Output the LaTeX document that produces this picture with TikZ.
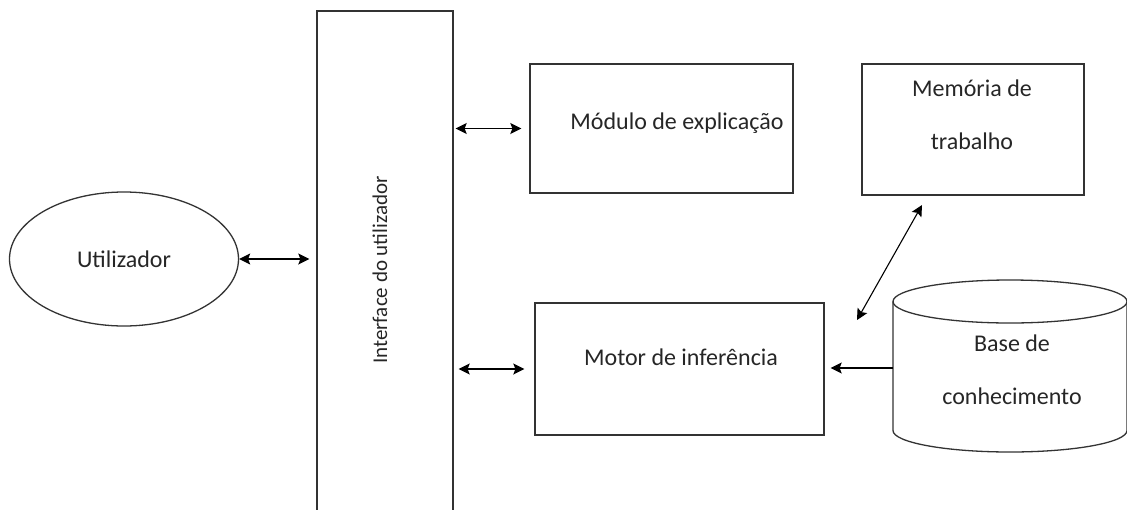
\documentclass[tikz,border=0pt]{standalone}
\usepackage{fontspec}
\setmainfont{Carlito}
\usetikzlibrary{shapes.geometric,arrows.meta}
\tikzset{
  box/.style={draw=black!80, line width=1.3pt, inner sep=0pt},
  txt/.style={text=black!85, font=\fontsize{24}{53}\selectfont, align=center},
  link/.style={<->, line width=1.5pt},
}
\begin{document}
\begin{tikzpicture}[x=1pt, y=-1pt, >={Stealth[length=11pt,width=11pt,inset=2pt]}]
\useasboundingbox (0,0) rectangle (1127,509);
\clip (0,0) rectangle (1127,509);

\node[box,ellipse,minimum width=229pt,minimum height=134pt,txt] (utilizador) at (124,259){Utilizador};

\node[box,minimum width=136pt,minimum height=520pt] (interface) at (385,271){};
\node[txt,rotate=90,font=\fontsize{21}{25}\selectfont] (interfacelabel) at (380,270){Interface do utilizador};

\node[box,minimum width=263pt,minimum height=129pt] (modulo) at (661.5,128.5){};
\node[txt,anchor=base] (modulolabel) at (677,129){Módulo de explicação};

\node[box,minimum width=222pt,minimum height=131pt] (memoria) at (973,129.5){};
\node[txt] (memorialabel) at (972,114.5){Memória de\\trabalho};

\node[box,minimum width=289pt,minimum height=132pt] (motor) at (679.5,369){};
\node[txt,anchor=base] (motorlabel) at (681,365){Motor de inferência};

% base de conhecimento (cilindro)
\draw[box] (893,301.5) -- (893,430.5) arc[start angle=180,end angle=0,x radius=117,y radius=21.5] -- (1127,301.5);
\draw[box] (1010,301.5) ellipse[x radius=117,y radius=21.5];
\node[txt] (baselabel) at (1012,369.5){Base de\\conhecimento};
\coordinate (basewest) at (893,368);
\coordinate (diagtop) at (922,205);
\coordinate (diagbot) at (857,320);

\draw[link,shorten >=7pt] (utilizador.east) -- (utilizador.east -| interface.west);
\draw[link,shorten <=2pt,shorten >=8pt] (modulo.west -| interface.east) -- (modulo.west);
\draw[link,shorten <=5pt,shorten >=10pt] (motor.west -| interface.east) -- (motor.west);
\draw[->,line width=1.5pt,shorten >=6pt] (basewest) -- (basewest -| motor.east);
\draw[link,line width=1.1pt] (diagtop) -- (diagbot);
\end{tikzpicture}
\end{document}
